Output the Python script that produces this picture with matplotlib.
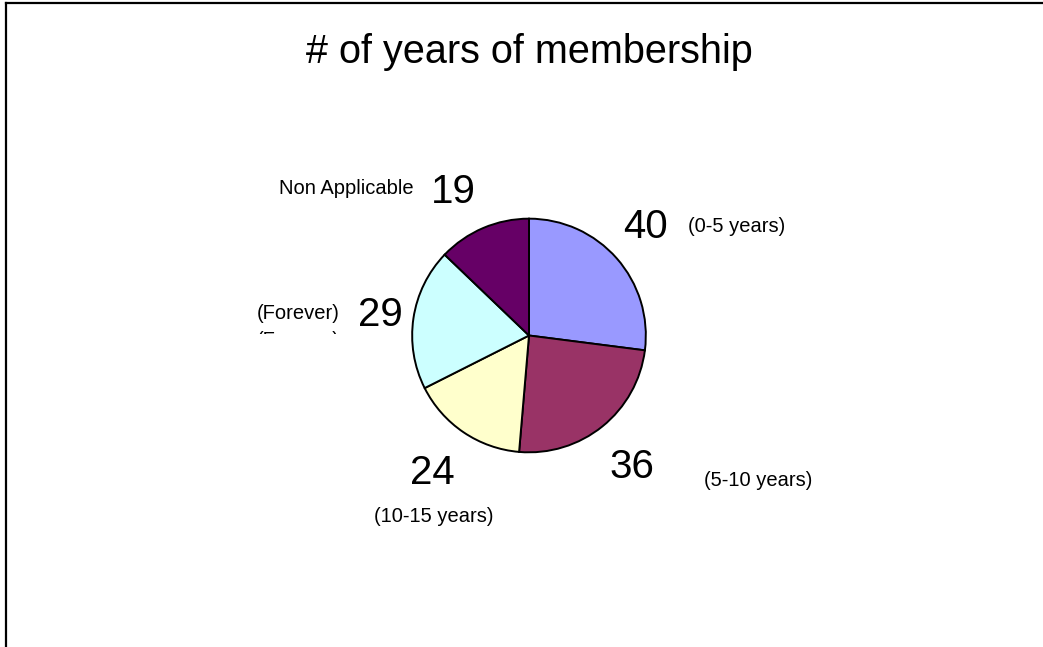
import matplotlib
matplotlib.use("Agg")
import matplotlib.pyplot as plt
from matplotlib.lines import Line2D
from matplotlib.transforms import Bbox

plt.rcParams["font.family"] = ["Liberation Sans", "DejaVu Sans"]

# Data
categories = ["(0-5 years)", "(5-10 years)", "(10-15 years)", "(Forever)", "Non Applicable"]
values = [40, 36, 24, 29, 19]
colors = ["#9999FF", "#993366", "#FFFFCC", "#CCFFFF", "#660066"]
title = "# of years of membership"

W, H = 1043, 647
fig = plt.figure(figsize=(W / 100, H / 100), dpi=100)
fig.patch.set_facecolor("white")


def fx(px):
    return px / W


def fy(py):
    return 1 - py / H


# Frame: top and left edges only
fig.add_artist(Line2D([fx(6), fx(W)], [fy(3), fy(3)], color="black", lw=1.6))
fig.add_artist(Line2D([fx(6), fx(6)], [fy(3), fy(H)], color="black", lw=1.6))

# Pie axes
cx, cy, r = 529, 335.5, 118
ax = fig.add_axes([fx(cx - r), fy(cy + r), 2 * r / W, 2 * r / H])
ax.pie(values, colors=colors, startangle=90, counterclock=False, radius=1,
       wedgeprops=dict(edgecolor="black", linewidth=1.4))
ax.set_xlim(-1.01, 1.01)
ax.set_ylim(-1.01, 1.01)
ax.axis("off")

fig.text(fx(529.5), fy(52), title, ha="center", va="center", fontsize=28.5)

# Label positions (pixels): (value x, value y, name x, name y)
label_pos = [
    (645, 227, 737, 227),
    (632, 467, 758, 480),
    (432, 473, 434, 516),
    (380, 315, 298, 313),
    (453, 192, 346, 189),
]
for v, name, (vx, vy, nx, ny) in zip(values, categories, label_pos):
    fig.text(fx(vx), fy(vy), str(v), ha="center", va="center", fontsize=29)
    fig.text(fx(nx), fy(ny), name, ha="center", va="center", fontsize=14.5)

# Overlapping, partially hidden second copy of the "(Forever)" label
t = fig.text(fx(298), fy(341), categories[3], ha="center", va="center", fontsize=14.5)
clip = Bbox.from_extents(0, H - 334, W, H - 329)
t.set_clip_box(clip)
t.set_clip_on(True)

fig.savefig("out.png", dpi=100, facecolor="white")
